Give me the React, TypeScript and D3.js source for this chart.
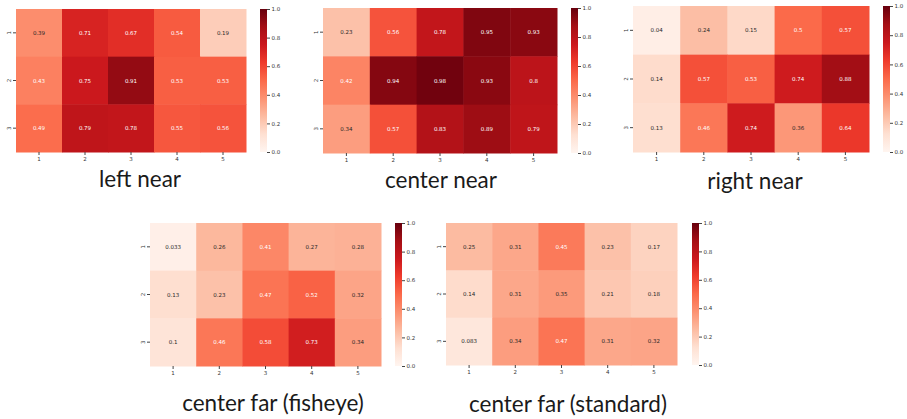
import React, { useEffect, useRef } from "react";
import * as d3 from "d3";

// column / row labels of every heatmap
const cols = ["1", "2", "3", "4", "5"];
const rows = ["1", "2", "3"];
const barTicks = [0, 0.2, 0.4, 0.6, 0.8, 1.0];

// values (row by row)
const leftNear = [
  [0.39, 0.71, 0.67, 0.54, 0.19],
  [0.43, 0.75, 0.91, 0.53, 0.53],
  [0.49, 0.79, 0.78, 0.55, 0.56],
];
const centerNear = [
  [0.23, 0.56, 0.78, 0.95, 0.93],
  [0.42, 0.94, 0.98, 0.93, 0.8],
  [0.34, 0.57, 0.83, 0.89, 0.79],
];
const rightNear = [
  [0.04, 0.24, 0.15, 0.5, 0.57],
  [0.14, 0.57, 0.53, 0.74, 0.88],
  [0.13, 0.46, 0.74, 0.36, 0.64],
];
const centerFarFisheye = [
  [0.033, 0.26, 0.41, 0.27, 0.28],
  [0.13, 0.23, 0.47, 0.52, 0.32],
  [0.1, 0.46, 0.58, 0.73, 0.34],
];
const centerFarStandard = [
  [0.25, 0.31, 0.45, 0.23, 0.17],
  [0.14, 0.31, 0.35, 0.21, 0.18],
  [0.083, 0.34, 0.47, 0.31, 0.32],
];

const titles = [
  "left near",
  "center near",
  "right near",
  "center far (fisheye)",
  "center far (standard)",
];

// layout of each panel: heatmap box, colorbar x, title position
const panels = [
  { data: leftNear, x0: 16, x1: 246, y0: 9, y1: 152, cb: 260, tx: 140, ty: 187 },
  { data: centerNear, x0: 323, x1: 557, y0: 8, y1: 153, cb: 571, tx: 441, ty: 188 },
  { data: rightNear, x0: 633, x1: 869, y0: 6, y1: 152, cb: 883, tx: 755, ty: 189 },
  { data: centerFarFisheye, x0: 150, x1: 381, y0: 223, y1: 366, cb: 395, tx: 273, ty: 411 },
  { data: centerFarStandard, x0: 446, x1: 677, y0: 223, y1: 365, cb: 692, tx: 568, ty: 412 },
];

const fmt = (v: number) => String(+v.toPrecision(2));

// matplotlib-style "Reds": linear through the 9 brewer colours
const reds = d3.piecewise(d3.interpolateRgb, d3.schemeReds[9]);

// seaborn picks the annotation colour from the cell luminance
const lum = (c: string) => {
  const rgb = d3.rgb(c);
  const f = (v: number) => {
    v = v / 255;
    return v <= 0.03928 ? v / 12.92 : Math.pow((v + 0.055) / 1.055, 2.4);
  };
  return 0.2126 * f(rgb.r) + 0.7152 * f(rgb.g) + 0.0722 * f(rgb.b);
};

const App = () => {
  const svgRef = useRef<SVGSVGElement>(null);

  useEffect(() => {
    const svg = d3.select(svgRef.current);
    svg.selectAll("*").remove();

    const color = d3.scaleSequential(reds).domain([0, 1]);

    // shared gradient for the colorbars
    const grad = svg
      .append("defs")
      .append("linearGradient")
      .attr("id", "reds")
      .attr("x1", 0)
      .attr("x2", 0)
      .attr("y1", 1)
      .attr("y2", 0);
    d3.range(0, 1.0001, 0.125).forEach((t) => {
      grad.append("stop").attr("offset", t).attr("stop-color", color(t));
    });

    panels.forEach((p, i) => {
      const g = svg.append("g");
      const x = d3.scaleBand().domain(cols).range([p.x0, p.x1]);
      const y = d3.scaleBand().domain(rows).range([p.y0, p.y1]);

      const cells = p.data.flatMap((row, r) =>
        row.map((v, c) => ({ r: rows[r], c: cols[c], v }))
      );

      g.selectAll("rect.cell")
        .data(cells)
        .join("rect")
        .attr("class", "cell")
        .attr("x", (d) => x(d.c)!)
        .attr("y", (d) => y(d.r)!)
        .attr("width", x.bandwidth() + 0.5)
        .attr("height", y.bandwidth() + 0.5)
        .attr("fill", (d) => color(d.v));

      g.selectAll("text.val")
        .data(cells)
        .join("text")
        .attr("class", "val")
        .attr("x", (d) => x(d.c)! + x.bandwidth() / 2)
        .attr("y", (d) => y(d.r)! + y.bandwidth() / 2)
        .attr("text-anchor", "middle")
        .attr("dominant-baseline", "central")
        .attr("font-family", "DejaVu Sans")
        .attr("font-size", 5.5)
        .attr("fill", (d) => (lum(color(d.v)) > 0.408 ? "#262626" : "#ffffff"))
        .text((d) => fmt(d.v));

      // axes
      const xAxis = g
        .append("g")
        .attr("transform", `translate(0,${p.y1})`)
        .call(d3.axisBottom(x).tickSize(3).tickPadding(2));
      const yAxis = g
        .append("g")
        .attr("transform", `translate(${p.x0},0)`)
        .call(d3.axisLeft(y).tickSize(3).tickPadding(2));
      [xAxis, yAxis].forEach((a) => {
        a.select(".domain").remove();
        a.selectAll("line").attr("stroke", "#444");
        a.selectAll("text")
          .attr("font-family", "DejaVu Sans")
          .attr("font-size", 5.5)
          .attr("fill", "#333");
      });
      yAxis
        .selectAll("text")
        .attr("text-anchor", "middle")
        .attr("dy", null)
        .attr("y", 0)
        .attr("x", -7)
        .attr("transform", "rotate(-90,-7,0)")
        .attr("dominant-baseline", "central");

      // colorbar
      const cbW = 7;
      g.append("rect")
        .attr("x", p.cb)
        .attr("y", p.y0)
        .attr("width", cbW)
        .attr("height", p.y1 - p.y0)
        .attr("fill", "url(#reds)");
      const cy = d3.scaleLinear().domain([0, 1]).range([p.y1, p.y0]);
      const cbAxis = g
        .append("g")
        .attr("transform", `translate(${p.cb + cbW},0)`)
        .call(
          d3
            .axisRight(cy)
            .tickValues(barTicks)
            .tickFormat(d3.format(".1f"))
            .tickSize(3)
            .tickPadding(1.5)
        );
      cbAxis.select(".domain").remove();
      cbAxis.selectAll("line").attr("stroke", "#444");
      cbAxis
        .selectAll("text")
        .attr("font-family", "DejaVu Sans")
        .attr("font-size", 5.5)
        .attr("fill", "#333");

      // caption
      svg
        .append("text")
        .attr("x", p.tx)
        .attr("y", p.ty)
        .attr("text-anchor", "middle")
        .attr("font-family", "Lato")
        .attr("font-size", 22.5)
        .attr("fill", "#1a1a1a")
        .text(titles[i]);
    });
  }, []);

  return (
    <svg
      ref={svgRef}
      width={907}
      height={419}
      style={{ position: "absolute", left: 0, top: 0, background: "#fff" }}
    ></svg>
  );
};

export default App;
